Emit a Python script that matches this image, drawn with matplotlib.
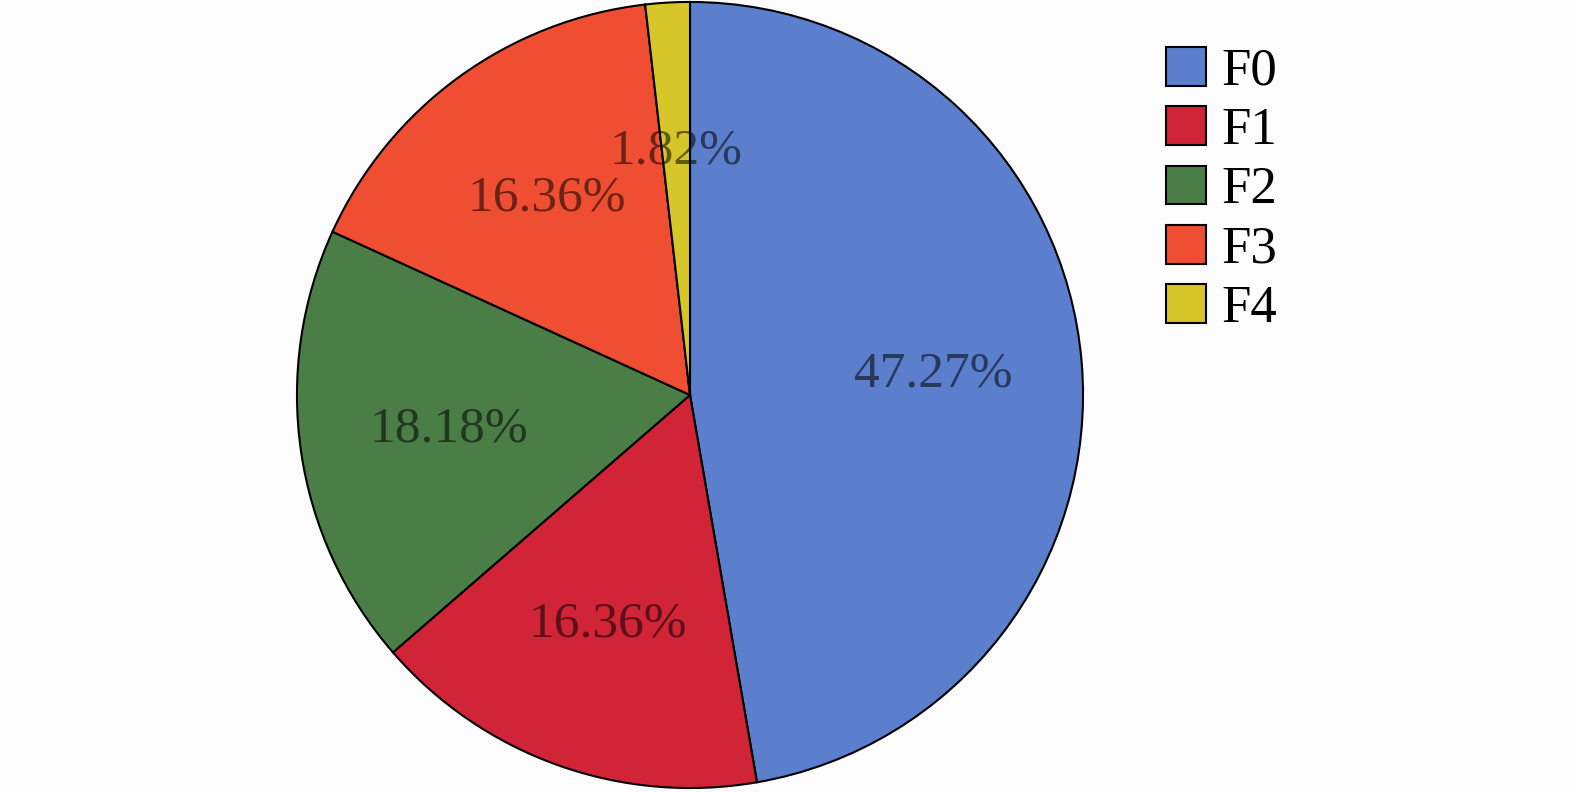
import matplotlib.pyplot as plt

# 各类别占比
labels = ['F0', 'F1', 'F2', 'F3', 'F4']
shares = [47.27, 16.36, 18.18, 16.36, 1.82]
colors = ['#5b7fcc', '#d12436', '#4a7e46', '#f04e32', '#d6c62a']

plt.rcParams['font.family'] = ['Liberation Serif', 'DejaVu Serif']

fig = plt.figure(figsize=(15.75, 7.92), dpi=100, facecolor='#fcfcfc')
ax = fig.add_axes([295 / 1575, 2 / 792, 790 / 1575, 790 / 792])

wedges, texts, autotexts = ax.pie(
    shares, colors=colors, startangle=90, counterclock=False,
    autopct='%.2f%%', pctdistance=0.62,
    wedgeprops=dict(edgecolor='black', linewidth=1.5),
    textprops=dict(fontsize=37, color='black', alpha=0.55))
ax.set_xlim(-1.005, 1.005)
ax.set_ylim(-1.005, 1.005)

leg = fig.legend(wedges, labels, loc='upper left', bbox_to_anchor=(1145 / 1575, 1 - 26 / 792),
                 frameon=False, fontsize=38, handlelength=0.75, handleheight=0.75,
                 handletextpad=0.3, labelspacing=0.2, borderaxespad=0)

fig.savefig('out.png', dpi=100, facecolor=fig.get_facecolor())
